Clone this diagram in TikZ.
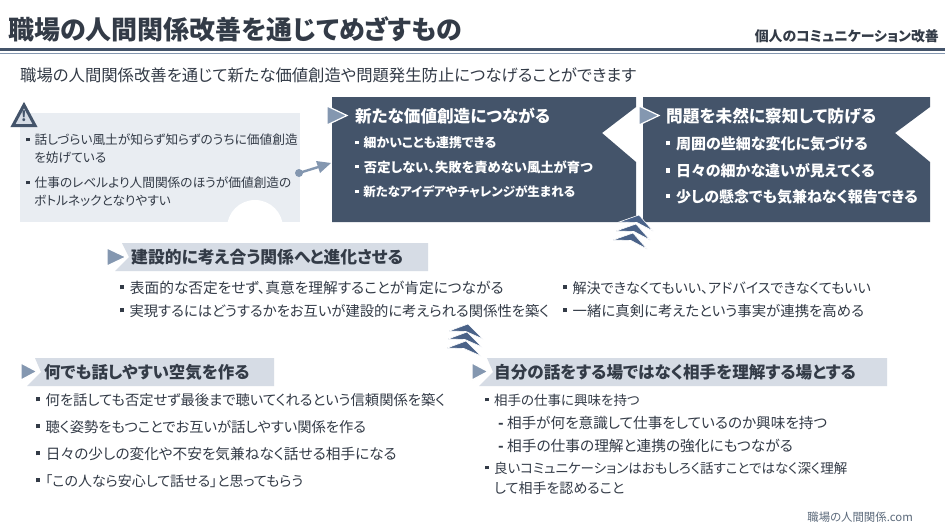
\documentclass[tikz,border=0pt]{standalone}
\usepackage{fontspec}
\usepackage{xcolor}
\setmainfont{Noto Sans CJK JP}[RawFeature=+palt]
\definecolor{navy}{HTML}{44546A}
\definecolor{ink}{HTML}{333B47}
\definecolor{paneback}{HTML}{E9EDF2}
\definecolor{bannerback}{HTML}{D6DCE5}
\definecolor{steel}{HTML}{8497B0}
\definecolor{chevron}{HTML}{4A6288}
\newcommand{\blt}{\rule[.28em]{.28em}{.28em}\hspace{.38em}}
\tikzset{
  txt/.style={anchor=west,inner sep=0pt,text=ink,font=\fontsize{#1}{#1}\selectfont},
  wtxt/.style={anchor=west,inner sep=0pt,text=white,font=\fontsize{#1}{#1}\selectfont\bfseries},
  head/.style={anchor=west,inner sep=0pt,text=ink,font=\fontsize{#1}{#1}\selectfont\bfseries},
  marker/.style={fill=steel,draw=white,line width=1.2pt,line join=miter},
  chev/.style={fill=chevron,draw=white,line width=.6pt},
}
\begin{document}
\begin{tikzpicture}[x=1pt,y=-1pt]
        \useasboundingbox (0,0) rectangle (945,531);
        \fill[white] (0,0) rectangle (945,531);
        % title
        \node[head=26] (title) at (8,29) {職場の人間関係改善を通じてめざすもの};
        \node[anchor=east,inner sep=0pt,text=ink,font=\fontsize{13.9}{13.9}\selectfont\bfseries] (section) at (939,36) {個人のコミュニケーション改善};
        \fill[navy] (0,48) rectangle (945,51);
        \fill[steel] (0,52.5) rectangle (945,54);
        \node[txt=16.35] (lead) at (20,75) {職場の人間関係改善を通じて新たな価値創造や問題発生防止につなげることができます};
        % warning pane
        \fill[paneback] (20,113) rectangle (300,222);
        \begin{scope}
          \clip (20,113) rectangle (300,222);
          \fill[white] (255,228) circle (28);
        \end{scope}
        \draw[navy,line width=3pt,fill=bannerback,line join=miter] (13,125.5) -- (24,105) -- (35,125.5) -- cycle;
        \node[inner sep=0pt,text=navy,font=\fontsize{14}{14}\selectfont\bfseries] (warn) at (24,116.5) {!};
        \node[txt=12.7] (w1) at (26,140) {\blt 話しづらい風土が知らず知らずのうちに価値創造};
        \node[txt=12.7] (w1b) at (34,158) {を妨げている};
        \node[txt=12.7] (w2) at (26,183) {\blt 仕事のレベルより人間関係のほうが価値創造の};
        \node[txt=12.7] (w2b) at (34,201) {ボトルネックとなりやすい};
        % arrow to the panels
        \coordinate (from) at (299,173);
        \coordinate (to) at (331,163);
        \fill[steel] (from) circle (4);
        \draw[steel,line width=2.4pt] (from) -- (320,166.5);
        \fill[steel] (to) -- (316,161) -- (320,173) -- cycle;
        % panels
        \fill[navy] (332,97) -- (636,97) -- (636,107) -- (602,133) -- (636,162) -- (636,222) -- (332,222) -- cycle;
        \fill[navy] (643,97) -- (930,97) -- (930,107) -- (895,133) -- (930,162) -- (930,222) -- (643,222) -- cycle;
        \path[marker] (327,106) -- (347,115.5) -- (327,125) -- cycle;
        \path[marker] (639,106) -- (659,115.5) -- (639,125) -- cycle;
        \node[wtxt=16.6] (p1) at (355,116) {新たな価値創造につながる};
        \node[wtxt=12.9] (p11) at (355,143) {\blt 細かいことも連携できる};
        \node[wtxt=13.3] (p12) at (355,167) {\blt 否定しない、失敗を責めない風土が育つ};
        \node[wtxt=12.5] (p13) at (355,192) {\blt 新たなアイデアやチャレンジが生まれる};
        \node[wtxt=16.7] (p2) at (666,116) {問題を未然に察知して防げる};
        \node[wtxt=15] (p21) at (666,144) {\blt 周囲の些細な変化に気づける};
        \node[wtxt=15] (p22) at (666,171) {\blt 日々の細かな違いが見えてくる};
        \node[wtxt=15] (p23) at (666,197) {\blt 少しの懸念でも気兼ねなく報告できる};
        % chevrons
        \foreach \xx/\yy in {633/233,636/224,639/215}{
          \path[chev,shift={(\xx,\yy)}] (0,0) -- (-20,7) -- (-2,7.5) -- (14,16) -- cycle;
        }
        % middle block
        \fill[bannerback] (122,243) -- (428,243) -- (428,271) -- (115,271) -- (129,257) -- cycle;
        \path[marker] (107,248) -- (126,257) -- (107,266) -- cycle;
        \node[head=16.8] (m) at (131,257.5) {建設的に考え合う関係へと進化させる};
        \node[txt=14.7] (m1) at (120,288) {\blt 表面的な否定をせず、真意を理解することが肯定につながる};
        \node[txt=14.3] (m2) at (120,311) {\blt 実現するにはどうするかをお互いが建設的に考えられる関係性を築く};
        \node[txt=14.1] (m3) at (563,288) {\blt 解決できなくてもいい、アドバイスできなくてもいい};
        \node[txt=14.4] (m4) at (563,311) {\blt 一緒に真剣に考えたという事実が連携を高める};
        \foreach \xx/\yy in {466/341,467/332,468/324}{
          \path[chev,shift={(\xx,\yy)}] (0,0) -- (-19,7) -- (-2,7.5) -- (15,15) -- cycle;
        }
        % lower left block
        \fill[bannerback] (35,358) -- (274,358) -- (274,386) -- (27,386) -- (41,372) -- cycle;
        \path[marker] (21,363) -- (37,371.5) -- (21,380) -- cycle;
        \node[head=16.5] (l) at (44,372) {何でも話しやすい空気を作る};
        \node[txt=14.3] (l1) at (36,400) {\blt 何を話しても否定せず最後まで聴いてくれるという信頼関係を築く};
        \node[txt=14.3] (l2) at (36,427) {\blt 聴く姿勢をもつことでお互いが話しやすい関係を作る};
        \node[txt=14.65] (l3) at (36,454) {\blt 日々の少しの変化や不安を気兼ねなく話せる相手になる};
        \node[txt=14] (l4) at (36,481) {\blt 「この人なら安心して話せる」と思ってもらう};
        % lower right block
        \fill[bannerback] (487,358) -- (887,358) -- (887,386) -- (479,386) -- (493,372) -- cycle;
        \path[marker] (472,363) -- (488,371.5) -- (472,380) -- cycle;
        \node[head=16.6] (r) at (494,372) {自分の話をする場ではなく相手を理解する場とする};
        \node[txt=13.5] (r1) at (485,400) {\blt 相手の仕事に興味を持つ};
        \node[txt=14.6] (r2) at (498,423) {\textbf{-} 相手が何を意識して仕事をしているのか興味を持つ};
        \node[txt=14.7] (r3) at (498,446) {\textbf{-} 相手の仕事の理解と連携の強化にもつながる};
        \node[txt=13.5] (r4) at (485,468) {\blt 良いコミュニケーションはおもしろく話すことではなく深く理解};
        \node[txt=14] (r4b) at (494,488) {して相手を認めること};
        \node[anchor=east,inner sep=0pt,text=steel!70!black,font=\fontsize{11.4}{11.4}\selectfont] (site) at (913,517) {職場の人間関係.com};
      \end{tikzpicture}
\end{document}
